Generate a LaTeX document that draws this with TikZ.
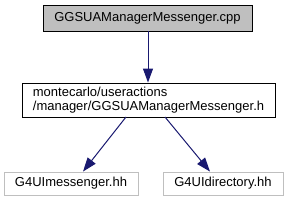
\documentclass[tikz,border=0pt]{standalone}
\usepackage{fontspec}
\setmainfont{Liberation Sans}
\usetikzlibrary{arrows.meta}
\definecolor{edgeblue}{HTML}{191970}
\definecolor{grey75}{HTML}{BFBFBF}
\tikzset{
  lbl/.style={inner sep=0pt, font=\fontsize{13}{13.5}\selectfont},
  box/.style={lbl, draw=black, line width=0.9pt, align=left},
  extbox/.style={lbl, draw=grey75, line width=0.9pt},
  conn/.style={draw=edgeblue, line width=1pt, -{Triangle[length=14pt,width=10pt]}}
}
\begin{document}
\begin{tikzpicture}[x=1pt,y=-1pt]
\useasboundingbox (0,0) rectangle (289,203);
\node[box, fill=grey75, minimum width=209, minimum height=26] (cpp) at (147.5,18) {GGSUAManagerMessenger.cpp};
\node[box, fill=white, minimum width=253, minimum height=34] (h) at (148.5,100) {montecarlo/useractions\\/manager/GGSUAManagerMessenger.h};
\node[extbox, minimum width=134, minimum height=23] (msg) at (71,183.5) {G4UImessenger.hh};
\node[extbox, minimum width=120, minimum height=23] (dir) at (223,183.5) {G4UIdirectory.hh};
\draw[conn] (cpp.south -| 148,0) -- (h.north -| 148,0);
\draw[conn] (126,117) -- (msg.north -| 83,0);
\draw[conn] (165,117) -- (dir.north -| 210,0);
\end{tikzpicture}
\end{document}
